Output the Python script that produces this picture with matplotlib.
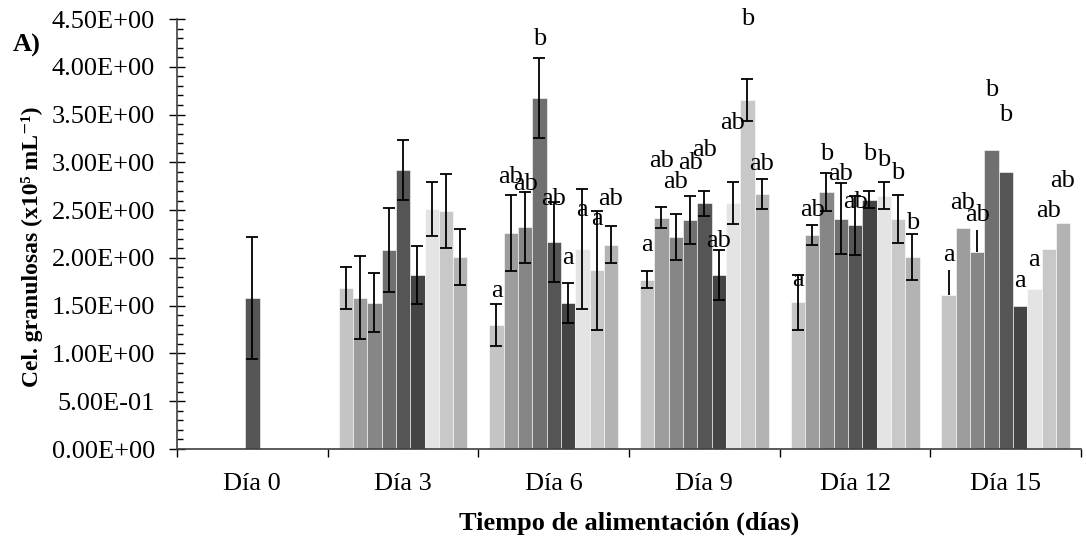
import numpy as np
import matplotlib
matplotlib.use('Agg')
import matplotlib.pyplot as plt
from matplotlib.ticker import MultipleLocator, FixedLocator, NullFormatter

plt.rcParams['font.family'] = ['Liberation Serif', 'DejaVu Serif']

###############################################################
# Data
###############################################################
days = ['Día 0', 'Día 3', 'Día 6', 'Día 9', 'Día 12', 'Día 15']
nan = np.nan

means = [
    [nan, nan, nan, nan, 1.58, nan, nan, nan, nan],
    [1.68, 1.585, 1.53, 2.08, 2.92, 1.82, 2.51, 2.49, 2.01],
    [1.30, 2.26, 2.32, 3.67, 2.17, 1.53, 2.09, 1.87, 2.14],
    [1.77, 2.42, 2.22, 2.40, 2.57, 1.82, 2.57, 3.65, 2.67],
    [1.535, 2.24, 2.69, 2.41, 2.34, 2.61, 2.65, 2.41, 2.01],
    [1.615, 2.31, 2.06, 3.13, 2.90, 1.50, 1.67, 2.09, 2.37],
]
errors = [
    [nan, nan, nan, nan, 0.64, nan, nan, nan, nan],
    [0.22, 0.43, 0.31, 0.44, 0.31, 0.30, 0.28, 0.39, 0.29],
    [0.22, 0.40, 0.37, 0.42, 0.42, 0.21, 0.63, 0.62, 0.19],
    [0.09, 0.11, 0.24, 0.25, 0.13, 0.26, 0.22, 0.22, 0.16],
    [0.29, 0.10, 0.20, 0.37, 0.31, 0.085, 0.14, 0.25, 0.24],
    [nan, nan, nan, nan, nan, nan, nan, nan, nan],
]
# Día 15 only shows upper lines without caps on two bars
upper_only15 = [0.26, nan, 0.23, nan, nan, nan, nan, nan, nan]

letters = [
    ['', '', '', '', '', '', '', '', ''],
    ['', '', '', '', '', '', '', '', ''],
    ['a', 'ab', 'ab', 'b', 'ab', 'a', 'a', 'a', 'ab'],
    ['a', 'ab', 'ab', 'ab', 'ab', 'ab', 'ab', 'b', 'ab'],
    ['a', 'ab', 'b', 'ab', 'ab', 'b', 'b', 'b', 'b'],
    ['a', 'ab', 'ab', 'b', 'b', 'a', 'a', 'ab', 'ab'],
]
letter_y = [
    [nan] * 9,
    [nan] * 9,
    [1.65, 2.85, 2.77, 4.29, 2.62, 2.00, 2.50, 2.41, 2.62],
    [2.13, 3.01, 2.79, 2.99, 3.13, 2.18, 3.41, 4.50, 2.98],
    [1.77, 2.50, 3.09, 2.88, 2.59, 3.09, 3.02, 2.89, 2.36],
    [2.03, 2.57, 2.45, 3.76, 3.50, 1.76, 1.98, 2.49, 2.80],
]

colors = ['#c4c4c4', '#9d9d9d', '#868686', '#707070', '#555555',
          '#444444', '#e4e4e4', '#c8c8c8', '#b3b3b3']

FS = 19

###############################################################
# Plot
###############################################################
fig = plt.figure(figsize=(10.86, 5.4), dpi=100)
ax = fig.add_axes([0.163, 0.1685, 0.8325, 0.7963])

n_series = len(colors)
width = 0.095
centers = np.arange(len(days)) + 0.5
m = np.array(means)
e = np.array(errors)

for k in range(n_series):
    x = centers + (k - (n_series - 1) / 2) * width
    ax.bar(x, m[:, k], width=width, color=colors[k], edgecolor='white',
           linewidth=0.4, zorder=2)
    ax.errorbar(x, m[:, k], yerr=e[:, k], fmt='none', ecolor='black',
                elinewidth=1.3, capsize=4, capthick=1.3, zorder=3)
    for d in range(len(days)):
        if letters[d][k]:
            ax.text(x[d], letter_y[d][k], letters[d][k], ha='center',
                    va='center', fontsize=FS, zorder=4, clip_on=False)

# Día 15 upper-only lines
x15 = centers[5] + (np.arange(n_series) - (n_series - 1) / 2) * width
m15 = m[5]
for k in range(n_series):
    if not np.isnan(upper_only15[k]):
        ax.vlines(x15[k], m15[k], m15[k] + upper_only15[k], color='black',
                  linewidth=1.3, zorder=3)

ax.set_xlim(0, len(days))
ax.set_ylim(0, 4.5)

ax.yaxis.set_major_locator(MultipleLocator(0.5))
ax.yaxis.set_minor_locator(MultipleLocator(0.1))
ax.yaxis.set_major_formatter(plt.FuncFormatter(lambda v, p: '%.2E' % v))
ax.tick_params(axis='y', which='major', direction='inout', length=12,
               width=1, labelsize=FS, pad=10)
ax.tick_params(axis='y', which='minor', direction='in', length=4.5, width=1)

ax.xaxis.set_major_locator(FixedLocator(np.arange(len(days) + 1)))
ax.xaxis.set_major_formatter(NullFormatter())
ax.xaxis.set_minor_locator(FixedLocator(centers))
ax.set_xticklabels(days, minor=True)
ax.tick_params(axis='x', which='major', direction='out', length=6, width=1)
ax.tick_params(axis='x', which='minor', length=0, labelsize=FS, pad=17)

for s in ['top', 'right']:
    ax.spines[s].set_visible(False)
for s in ['left', 'bottom']:
    ax.spines[s].set_color('#404040')
    ax.spines[s].set_linewidth(1.2)

ax.set_xlabel('Tiempo de alimentación (días)', fontsize=FS,
              fontweight='bold', labelpad=12)
ax.set_ylabel('Cel. granulosas (x10\u2075 mL\u207b\u00b9)',
              fontsize=17, fontweight='bold')
ax.yaxis.set_label_coords(-0.148, 0.47)
fig.text(0.012, 0.905, 'A)', fontsize=FS, fontweight='bold')

plt.savefig('out.png', dpi=100)
